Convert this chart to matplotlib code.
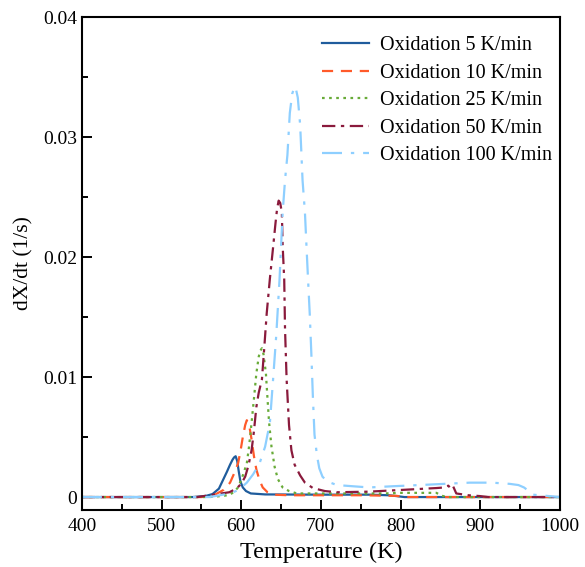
import matplotlib
matplotlib.use("Agg")
import matplotlib.pyplot as plt
from matplotlib.ticker import MultipleLocator, FixedLocator

plt.rcParams['font.family'] = ['Liberation Serif', 'DejaVu Serif']

# values (T in K, dX/dt in 1/s)
t_5 = [400, 540, 556, 564, 572, 577, 582, 586, 589, 591, 593, 595, 597, 599, 602, 606, 612, 630, 700, 760, 785, 795, 805, 1000]
r_5 = [0, 0, 0.0001, 0.00025, 0.0007, 0.0014, 0.0021, 0.0027, 0.0031, 0.0033, 0.0034, 0.0030, 0.0021, 0.0013, 0.0008, 0.0005, 0.0003, 0.00022, 0.0002, 0.0002, 0.00015, 0.00008, 0, 0]

t_10 = [400, 550, 567, 578, 586, 592, 596, 599, 602, 605, 607, 609, 611, 613, 616, 619, 623, 627, 633, 640, 660, 750, 795, 805, 1000]
r_10 = [0, 0, 0.0002, 0.0006, 0.0012, 0.0021, 0.0028, 0.0038, 0.005, 0.006, 0.0064, 0.0062, 0.0056, 0.0048, 0.0034, 0.0023, 0.0014, 0.0008, 0.0004, 0.0002, 0.00015, 0.00015, 0.0001, 0, 0]

t_25 = [400, 560, 578, 586, 592, 596, 601, 607, 610, 613, 616, 619, 622, 624, 626, 628, 631, 633, 635, 638, 642, 646, 652, 660, 670, 690, 780, 800, 845, 852, 860, 1000]
r_25 = [0, 0, 0.0001, 0.0002, 0.0005, 0.0008, 0.0016, 0.0028, 0.0043, 0.0062, 0.0082, 0.0103, 0.0117, 0.0122, 0.0124, 0.0119, 0.0103, 0.0082, 0.0062, 0.0042, 0.0025, 0.0015, 0.0008, 0.0005, 0.0003, 0.0003, 0.0003, 0.00035, 0.00035, 0.0001, 0, 0]

t_50 = [400, 545, 565, 585, 594, 600, 605, 609, 613, 616, 619, 622, 626, 629, 632, 636, 640, 643, 645, 647, 649, 651, 652, 654, 655, 657, 660, 663, 667, 674, 680, 690, 705, 720, 760, 803, 845, 855, 860, 863, 866, 870, 885, 900, 910, 1000]
r_50 = [0, 0, 0.0002, 0.0004, 0.0007, 0.0011, 0.0017, 0.0026, 0.0039, 0.0055, 0.0075, 0.0087, 0.0098, 0.0125, 0.0153, 0.0182, 0.0208, 0.0228, 0.0240, 0.0247, 0.0245, 0.0237, 0.0210, 0.0181, 0.0140, 0.0098, 0.0060, 0.0039, 0.0027, 0.0018, 0.0012, 0.00075, 0.0005, 0.0004, 0.00045, 0.0006, 0.00075, 0.0008, 0.00095, 0.0007, 0.0009, 0.0003, 0.00015, 0.00008, 0, 0]

t_100 = [400, 560, 586, 597, 607, 615, 623, 630, 636, 640, 644, 648, 652, 655, 658, 661, 664, 667, 669, 671, 674, 677, 680, 682, 684, 686, 688, 690, 692, 695, 698, 702, 708, 720, 740, 761, 790, 824, 855, 887, 915, 937, 948, 955, 961, 966, 1000]
r_100 = [0, 0, 0.0003, 0.0006, 0.0012, 0.0019, 0.0028, 0.0042, 0.0062, 0.0098, 0.0135, 0.018, 0.0237, 0.0264, 0.0285, 0.032, 0.0336, 0.0342, 0.0339, 0.0333, 0.031, 0.0264, 0.0237, 0.0208, 0.018, 0.0153, 0.012, 0.0083, 0.0052, 0.0035, 0.0024, 0.0017, 0.0013, 0.001, 0.0009, 0.0008, 0.0009, 0.001, 0.0011, 0.0012, 0.0012, 0.0011, 0.001, 0.0008, 0.0005, 0.0002, 0]

labels = ['Oxidation 5 K/min', 'Oxidation 10 K/min', 'Oxidation 25 K/min',
          'Oxidation 50 K/min', 'Oxidation 100 K/min']
colors = ['#1f5c9c', '#ff5a2a', '#68ab38', '#8a1a3c', '#8ecfff']
styles = ['-', (0, (5, 3.5)), (0, (1.2, 2)), (0, (6, 2.5, 1.5, 2.5)), (0, (9, 4, 1.5, 4))]

fig = plt.figure(figsize=(5.85, 5.67), dpi=100)
ax = fig.add_axes([0.140, 0.1005, 0.817, 0.8695])

series = [(t_5, r_5), (t_10, r_10), (t_25, r_25), (t_50, r_50), (t_100, r_100)]
for (t, r), lab, c, ls in zip(series, labels, colors, styles):
    ax.plot(t, r, color=c, ls=ls, lw=1.6, label=lab)

ax.set_xlim(400, 1000)
ax.set_ylim(-0.00108, 0.04)
ax.xaxis.set_major_locator(MultipleLocator(100))
ax.xaxis.set_minor_locator(MultipleLocator(50))
ax.yaxis.set_major_locator(FixedLocator([0, 0.01, 0.02, 0.03, 0.04]))
ax.yaxis.set_minor_locator(FixedLocator([0.005, 0.015, 0.025, 0.035]))
ax.set_yticklabels(['0', '0.01', '0.02', '0.03', '0.04'])
ax.tick_params(which='both', direction='in', labelsize=14, width=1.4)
ax.tick_params(which='major', length=7)
ax.tick_params(which='minor', length=4)
ax.tick_params(axis='x', pad=6)
for s in ax.spines.values():
    s.set_linewidth(1.5)

ax.set_xlabel('Temperature (K)', fontsize=17.5, labelpad=5)
ax.set_ylabel('dX/dt (1/s)', fontsize=15.5, labelpad=7)

ax.legend(loc='upper right', bbox_to_anchor=(1.0, 0.978), frameon=False,
          fontsize=14.5, handlelength=2.3, handletextpad=0.55,
          labelspacing=0.42, borderaxespad=0.0)

fig.savefig('out.png', dpi=100)
